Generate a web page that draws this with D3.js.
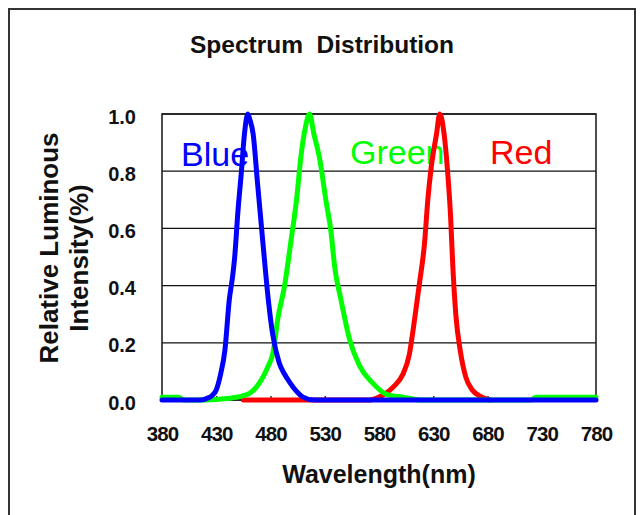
<!DOCTYPE html>
<html>
<head>
<meta charset="utf-8">
<script src="https://cdn.jsdelivr.net/npm/d3@7"></script>
<style>
  body { margin: 0; background: white; }
  text { font-family: "Liberation Sans", Arial, sans-serif; }
</style>
</head>
<body>
<div id="container"></div>
<script>
let w = 642;
let h = 515;

// values (nm / relative intensity)
let blueWl  = [380, 400, 415, 421, 426, 430, 434, 438, 442, 445, 447, 450, 453, 456, 459, 461, 464, 468, 473, 478, 482, 488, 493, 498, 504, 510, 520, 560, 620, 680, 740, 780];
let blueVal = [0, 0, 0, 0.005, 0.015, 0.035, 0.09, 0.175, 0.35, 0.43, 0.5, 0.66, 0.79, 0.93, 1.0, 0.98, 0.93, 0.76, 0.55, 0.35, 0.23, 0.13, 0.09, 0.06, 0.03, 0.01, 0, 0, 0, 0, 0, 0];

let greenWl  = [380, 395, 400, 420, 440, 455, 461, 467, 473, 478, 482, 487, 493, 499, 504, 508, 512, 516, 520, 525, 531, 536, 539, 545, 553, 562, 574, 587, 602, 620, 700, 720, 725, 780];
let greenVal = [0.01, 0.01, 0, 0, 0.005, 0.015, 0.024, 0.045, 0.08, 0.12, 0.16, 0.29, 0.40, 0.56, 0.70, 0.85, 0.95, 1.0, 0.93, 0.85, 0.70, 0.58, 0.47, 0.35, 0.21, 0.12, 0.06, 0.02, 0.01, 0, 0, 0, 0.01, 0.01];

let redWl  = [455, 520, 560, 571, 580, 587, 593, 602, 608, 612, 617, 622, 625, 628, 633, 636, 640, 643, 646, 648, 651, 655, 660, 666, 675, 682];
let redVal = [0, 0, 0, 0, 0.01, 0.025, 0.045, 0.09, 0.16, 0.26, 0.40, 0.55, 0.70, 0.81, 0.93, 1.0, 0.93, 0.81, 0.64, 0.47, 0.29, 0.17, 0.08, 0.035, 0.01, 0];

let xTicks = [380, 430, 480, 530, 580, 630, 680, 730, 780];
let yTicks = [0, 0.2, 0.4, 0.6, 0.8, 1.0];
let seriesNames = ["Red", "Green", "Blue"];

let plotLeft = 162, plotRight = 596, plotTop = 114, plotBottom = 400;

let viz = d3.select("#container")
  .append("svg")
    .attr("width", w)
    .attr("height", h)
    .style("background-color", "white");

// outer frame (runs off the bottom of the picture)
viz.append("rect")
  .attr("x", 9).attr("y", 9)
  .attr("width", 626).attr("height", 530)
  .attr("fill", "none")
  .attr("stroke", "#333")
  .attr("stroke-width", 2);

let xScale = d3.scaleLinear().domain([380, 780]).range([plotLeft, plotRight]);
let yScale = d3.scaleLinear().domain([0, 1]).range([plotBottom, plotTop]);

// gridlines
viz.append("g").selectAll("line").data(yTicks).enter()
  .append("line")
    .attr("x1", plotLeft).attr("x2", plotRight)
    .attr("y1", function(d){ return yScale(d); })
    .attr("y2", function(d){ return yScale(d); })
    .attr("stroke", "#111")
    .attr("stroke-width", 1.3);

viz.append("rect")
  .attr("x", plotLeft).attr("y", plotTop)
  .attr("width", plotRight - plotLeft).attr("height", plotBottom - plotTop)
  .attr("fill", "none")
  .attr("stroke", "#222")
  .attr("stroke-width", 1.6);

// axes
let xAxis = d3.axisBottom(xScale).tickValues(xTicks).tickSizeInner(-4).tickSizeOuter(0).tickPadding(26);
let xAxisGroup = viz.append("g")
  .attr("transform", "translate(0," + plotBottom + ")")
  .call(xAxis);
xAxisGroup.select(".domain").remove();
xAxisGroup.selectAll("line").attr("stroke", "#111").attr("stroke-width", 1.3);
xAxisGroup.selectAll("text")
  .attr("font-family", "'Liberation Sans', Arial, sans-serif")
  .attr("font-size", 20.5)
  .attr("font-weight", "bold")
  .attr("letter-spacing", -0.9)
  .attr("fill", "#111");

let yAxis = d3.axisLeft(yScale).tickValues(yTicks).tickSize(0).tickPadding(26).tickFormat(d3.format(".1f"));
let yAxisGroup = viz.append("g")
  .attr("transform", "translate(" + plotLeft + ",0)")
  .call(yAxis);
yAxisGroup.select(".domain").remove();
yAxisGroup.selectAll("text")
  .attr("font-family", "'Liberation Sans', Arial, sans-serif")
  .attr("font-size", 20)
  .attr("font-weight", "bold")
  .attr("dy", "0.45em")
  .attr("fill", "#111");

// titles
viz.append("text")
  .attr("x", 322).attr("y", 53)
  .attr("text-anchor", "middle")
  .attr("font-size", 24.5)
  .attr("font-weight", "bold")
  .style("white-space", "pre")
  .attr("fill", "#111")
  .text("Spectrum  Distribution");

viz.append("text")
  .attr("x", (plotLeft + plotRight) / 2).attr("y", 483)
  .attr("text-anchor", "middle")
  .attr("font-size", 25)
  .attr("font-weight", "bold")
  .attr("fill", "#111")
  .text("Wavelength(nm)");

viz.append("text")
  .attr("transform", "translate(58,248) rotate(-90)")
  .attr("text-anchor", "middle")
  .attr("font-size", 26)
  .attr("font-weight", "bold")
  .attr("fill", "#111")
  .text("Relative Luminous");

viz.append("text")
  .attr("transform", "translate(88,258) rotate(-90)")
  .attr("text-anchor", "middle")
  .attr("font-size", 26)
  .attr("font-weight", "bold")
  .attr("fill", "#111")
  .text("Intensity(%)");

// series labels (drawn under the curves)
let labelX = { Blue: 181, Green: 350, Red: 490 };
let labelY = { Blue: 166, Green: 164, Red: 164 };
let colors = { Blue: "#0000ff", Green: "#00ff00", Red: "#ff0000" };

viz.append("g").selectAll("text").data(["Blue", "Green", "Red"]).enter()
  .append("text")
    .attr("x", function(d){ return labelX[d]; })
    .attr("y", function(d){ return labelY[d]; })
    .attr("font-size", 34)
    .attr("fill", function(d){ return colors[d]; })
    .text(function(d){ return d; });

// curves
function makePoints(wl, val){
  return wl.map(function(d, i){ return { nm: d, v: val[i] }; });
}
let series = {
  Blue: makePoints(blueWl, blueVal),
  Green: makePoints(greenWl, greenVal),
  Red: makePoints(redWl, redVal)
};

let line = d3.line()
  .x(function(d){ return xScale(d.nm); })
  .y(function(d){ return yScale(d.v); })
  .curve(d3.curveMonotoneX);

viz.append("g").selectAll("path").data(seriesNames).enter()
  .append("path")
    .attr("d", function(d){ return line(series[d]); })
    .attr("fill", "none")
    .attr("stroke", function(d){ return colors[d]; })
    .attr("stroke-width", 5)
    .attr("stroke-linejoin", "round")
    .attr("stroke-linecap", "round");
</script>
</body>
</html>
